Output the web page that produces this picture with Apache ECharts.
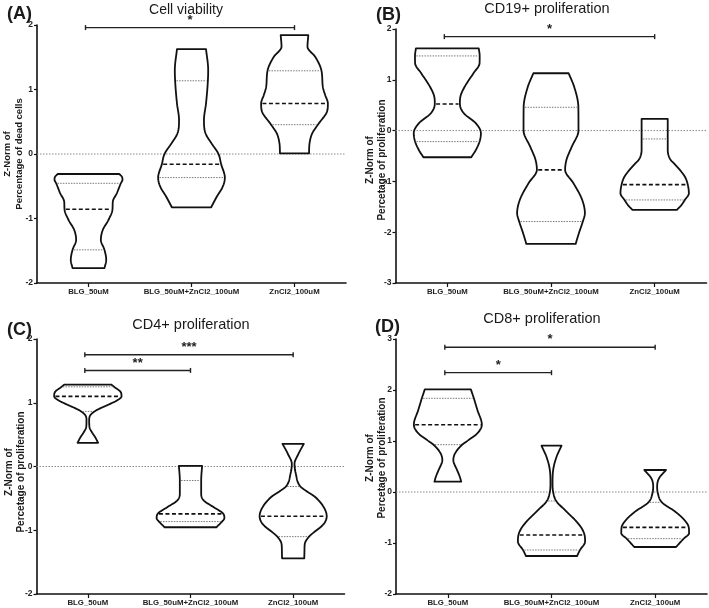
<!DOCTYPE html>
<html><head><meta charset="utf-8">
<script src="https://cdn.jsdelivr.net/npm/echarts@6/dist/echarts.min.js"></script>
<style>html,body{margin:0;padding:0;background:#fff}#c{width:709px;height:608px}</style>
</head><body><div id="c"></div>
<script>
const categories = ['BLG_50uM', 'BLG_50uM+ZnCl2_100uM', 'ZnCl2_100uM'];
const yTicks = { A: [-2, 2], B: [-3, 2], C: [-2, 2], D: [-2, 3] };

// Violin outlines: y values (top to bottom) and half widths (fraction of category band)
const viabilityY = [
  [-0.31, -0.35, -0.40, -0.454, -0.609, -0.738, -0.857, -1.022, -1.176, -1.331, -1.486, -1.641, -1.77],
  [1.625, 1.30, 1.135, 0.784, 0.526, 0.320, 0.165, 0.0, -0.16, -0.366, -0.505, -0.66, -0.826],
  [1.842, 1.661, 1.507, 1.29, 1.042, 0.913, 0.784, 0.681, 0.454, 0.320, 0.165, 0.01]
];
const viabilityW = [
  [0.298, 0.324, 0.330, 0.314, 0.275, 0.236, 0.233, 0.194, 0.139, 0.120, 0.155, 0.172, 0.155],
  [0.141, 0.162, 0.159, 0.141, 0.121, 0.136, 0.194, 0.262, 0.288, 0.324, 0.304, 0.246, 0.191],
  [0.134, 0.126, 0.201, 0.262, 0.275, 0.298, 0.324, 0.320, 0.227, 0.172, 0.146, 0.141]
];
const viabilityQ = [[-1.486, -0.857, -0.454], [-0.366, -0.16, 1.135], [0.454, 0.784, 1.29]];

const cd19Y = [
  [1.62, 1.47, 1.325, 1.129, 0.866, 0.669, 0.525, 0.341, 0.144, -0.052, -0.217, -0.381, -0.525],
  [1.129, 0.866, 0.459, 0.0, -0.315, -0.577, -0.774, -1.037, -1.365, -1.627, -1.79, -2.02, -2.23],
  [0.23, 0.013, -0.164, -0.381, -0.577, -0.64, -0.906, -1.063, -1.234, -1.365, -1.463, -1.56]
];
const cd19W = [
  [0.303, 0.312, 0.311, 0.252, 0.168, 0.126, 0.121, 0.159, 0.275, 0.324, 0.311, 0.275, 0.231],
  [0.170, 0.223, 0.264, 0.265, 0.201, 0.149, 0.136, 0.217, 0.301, 0.327, 0.307, 0.269, 0.238],
  [0.126, 0.126, 0.126, 0.126, 0.154, 0.184, 0.291, 0.319, 0.330, 0.291, 0.259, 0.214]
];
const cd19Q = [[-0.217, 0.525, 1.47], [-1.79, -0.774, 0.459], [-1.365, -1.063, -0.164]];

const cd4Y = [
  [1.283, 1.246, 1.168, 1.10, 1.037, 0.958, 0.88, 0.801, 0.723, 0.618, 0.539, 0.461, 0.372],
  [0.01, -0.22, -0.429, -0.534, -0.639, -0.743, -0.812, -0.864, -0.953],
  [0.356, 0.199, 0.042, -0.115, -0.314, -0.482, -0.639, -0.780, -0.901, -1.1, -1.215, -1.319, -1.44]
];
const cd4W = [
  [0.231, 0.259, 0.320, 0.328, 0.285, 0.184, 0.081, 0.023, 0.013, 0.016, 0.039, 0.071, 0.100],
  [0.113, 0.104, 0.104, 0.129, 0.227, 0.320, 0.330, 0.307, 0.252],
  [0.104, 0.052, 0.013, 0.026, 0.071, 0.217, 0.298, 0.327, 0.298, 0.155, 0.113, 0.110, 0.108]
];
const cd4Q = [[0.864, 1.10, 1.25], [-0.864, -0.743, -0.22], [-1.1, -0.78, -0.314]];

const cd8Y = [
  [2.013, 1.837, 1.608, 1.32, 1.150, 1.020, 0.928, 0.758, 0.627, 0.431, 0.301, 0.203],
  [0.908, 0.693, 0.431, 0.170, 0.0, -0.176, -0.353, -0.549, -0.712, -0.843, -0.974, -1.137, -1.255],
  [0.431, 0.268, 0.105, -0.026, -0.203, -0.386, -0.549, -0.693, -0.81, -0.915, -1.078]
];
const cd8W = [
  [0.222, 0.251, 0.285, 0.328, 0.285, 0.201, 0.138, 0.070, 0.053, 0.089, 0.115, 0.129],
  [0.097, 0.049, 0.016, 0.010, 0.016, 0.045, 0.129, 0.227, 0.291, 0.319, 0.324, 0.275, 0.246],
  [0.105, 0.037, 0.019, 0.026, 0.065, 0.194, 0.282, 0.324, 0.327, 0.275, 0.202]
];
const cd8Q = [[0.928, 1.32, 1.837], [-1.137, -0.843, -0.176], [-0.915, -0.693, -0.203]];

// Significance brackets: [fromIndex, toIndex, yValue] and their labels
const viabilitySig = [[0, 2, 1.96]];
const viabilitySigLabel = ['*'];
const cd19Sig = [[0, 2, 1.85]];
const cd19SigLabel = ['*'];
const cd4Sig = [[0, 1, 1.507], [0, 2, 1.754]];
const cd4SigLabel = ['**', '***'];
const cd8Sig = [[0, 1, 2.34], [0, 2, 2.837]];
const cd8SigLabel = ['*', '*'];

const FONT = '"Liberation Sans", Arial, Helvetica, sans-serif';
const INK = '#111';

function monotone(xsIn, ysIn) {
  const idx = xsIn.map((_, i) => i).sort((a, b) => xsIn[a] - xsIn[b]);
  const xs = idx.map(i => xsIn[i]), ys = idx.map(i => ysIn[i]);
  const n = xs.length, d = [], m = new Array(n);
  for (let i = 0; i < n - 1; i++) d.push((ys[i + 1] - ys[i]) / (xs[i + 1] - xs[i]));
  m[0] = d[0]; m[n - 1] = d[n - 2];
  for (let i = 1; i < n - 1; i++) m[i] = d[i - 1] * d[i] <= 0 ? 0 : (d[i - 1] + d[i]) / 2;
  for (let i = 0; i < n - 1; i++) {
    if (d[i] === 0) { m[i] = 0; m[i + 1] = 0; continue; }
    const a = m[i] / d[i], b = m[i + 1] / d[i], s = a * a + b * b;
    if (s > 9) { const t = 3 / Math.sqrt(s); m[i] = t * a * d[i]; m[i + 1] = t * b * d[i]; }
  }
  return function (x) {
    if (x <= xs[0]) return ys[0];
    if (x >= xs[n - 1]) return ys[n - 1];
    let k = 0; while (x > xs[k + 1]) k++;
    const h = xs[k + 1] - xs[k], t = (x - xs[k]) / h;
    const h00 = 2 * t * t * t - 3 * t * t + 1, h10 = t * t * t - 2 * t * t + t;
    const h01 = -2 * t * t * t + 3 * t * t, h11 = t * t * t - t * t;
    return h00 * ys[k] + h10 * h * m[k] + h01 * ys[k + 1] + h11 * h * m[k + 1];
  };
}

function zeroSeries(gi) {
  return {
    type: 'custom', xAxisIndex: gi, yAxisIndex: gi, silent: true, z: 1,
    data: [[0, 0]],
    renderItem: function (params, api) {
      const cs = params.coordSys;
      const y = api.coord([0, 0])[1];
      return { type: 'line', shape: { x1: cs.x, y1: y, x2: cs.x + cs.width, y2: y },
        style: { stroke: '#8a8a8a', lineWidth: 1, lineDash: [1.5, 1.5] } };
    }
  };
}

function violinSeries(gi, ysAll, wsAll, qsAll) {
  return {
    type: 'custom', xAxisIndex: gi, yAxisIndex: gi, silent: true, z: 3,
    data: categories.map((c, i) => [i, 0]),
    renderItem: function (params, api) {
      const i = api.value(0);
      const band = api.size([1, 0])[0];
      const ys = ysAll[i], ws = wsAll[i];
      const f = monotone(ys, ws);
      const top = Math.max.apply(null, ys), bot = Math.min.apply(null, ys);
      const N = 90, right = [], left = [];
      for (let k = 0; k <= N; k++) {
        const y = top - (top - bot) * k / N;
        const p = api.coord([i, y]);
        const w = f(y) * band;
        right.push([p[0] + w, p[1]]);
        left.push([p[0] - w, p[1]]);
      }
      const pts = right.concat(left.reverse());
      const children = [{ type: 'polygon', shape: { points: pts },
        style: { fill: 'none', stroke: INK, lineWidth: 1.8, lineJoin: 'round' } }];
      qsAll[i].forEach(function (q, qi) {
        const p = api.coord([i, q]);
        const w = f(q) * band - 1.3;
        children.push({ type: 'line', shape: { x1: p[0] - w, y1: p[1], x2: p[0] + w, y2: p[1] },
          style: qi === 1 ? { stroke: '#111', lineWidth: 1.6, lineDash: [4, 2.5] }
                          : { stroke: '#777', lineWidth: 1, lineDash: [1.5, 1.2] } });
      });
      return { type: 'group', children: children };
    }
  };
}

function sigSeries(gi, bars, labels) {
  return {
    type: 'custom', xAxisIndex: gi, yAxisIndex: gi, silent: true, z: 4,
    data: bars.map((b, i) => [b[0], b[2], b[1], i]),
    renderItem: function (params, api) {
      const from = api.value(0), y = api.value(1), to = api.value(2), li = api.value(3);
      const p1 = api.coord([from, y]), p2 = api.coord([to, y]);
      const x1 = p1[0] - 3, x2 = p2[0], yy = p1[1];
      const st = { stroke: '#222', lineWidth: 1.4 };
      return { type: 'group', children: [
        { type: 'line', shape: { x1: x1, y1: yy, x2: x2, y2: yy }, style: st },
        { type: 'line', shape: { x1: x1, y1: yy - 2.5, x2: x1, y2: yy + 2.5 }, style: st },
        { type: 'line', shape: { x1: x2, y1: yy - 2.5, x2: x2, y2: yy + 2.5 }, style: st },
        { type: 'text', x: (x1 + x2) / 2, y: yy - 1, style: { text: labels[li], font: 'bold 13px ' + FONT,
          fill: '#222', align: 'center', verticalAlign: 'bottom' } }
      ] };
    }
  };
}

const grids = [
  { left: 37, top: 25, width: 309, height: 258 },
  { left: 395.5, top: 29, width: 311, height: 254 },
  { left: 36.5, top: 339, width: 308, height: 255 },
  { left: 396, top: 339, width: 311, height: 255 }
];
const ranges = [yTicks.A, yTicks.B, yTicks.C, yTicks.D];

const axStyle = { color: INK, width: 1.6 };
const xAxes = grids.map((g, i) => ({
  type: 'category', gridIndex: i, data: categories,
  axisLine: { show: true, onZero: false, lineStyle: axStyle },
  axisTick: { show: true, alignWithLabel: true, length: 4, lineStyle: { color: INK, width: 1.2 } },
  axisLabel: { interval: 0, fontSize: 7.8, fontWeight: 'bold', color: '#222', margin: 5, fontFamily: FONT },
  splitLine: { show: false }
}));
const yAxes = grids.map((g, i) => ({
  type: 'value', gridIndex: i, min: ranges[i][0], max: ranges[i][1], interval: 1,
  axisLine: { show: true, lineStyle: axStyle },
  axisTick: { show: true, length: 3, lineStyle: { color: INK, width: 1.2 } },
  axisLabel: { fontSize: 8.5, fontWeight: 'bold', color: '#222', margin: 4, fontFamily: FONT },
  splitLine: { show: false }
}));

function txt(x, y, text, font, align, rot) {
  return { type: 'text', x: x, y: y, rotation: rot || 0, silent: true,
    style: { text: text, font: font, fill: '#1a1a1a', align: align || 'center', verticalAlign: 'middle', lineHeight: 12 } };
}

const graphics = [
  txt(7, 14, '(A)', 'bold 18px ' + FONT, 'left'),
  txt(186, 10, 'Cell viability', '14px ' + FONT),
  txt(376, 15, '(B)', 'bold 18px ' + FONT, 'left'),
  txt(547, 9, 'CD19+ proliferation', '14.5px ' + FONT),
  txt(7, 330, '(C)', 'bold 18px ' + FONT, 'left'),
  txt(191, 325, 'CD4+ proliferation', '14.5px ' + FONT),
  txt(375, 327, '(D)', 'bold 18px ' + FONT, 'left'),
  txt(542, 319, 'CD8+ proliferation', '14.5px ' + FONT),
  txt(13, 154, 'Z-Norm of\nPercentage of dead cells', 'bold 9.5px ' + FONT, 'center', Math.PI / 2),
  txt(376, 160, 'Z-Norm of\nPercetage of proliferation', 'bold 10px ' + FONT, 'center', Math.PI / 2),
  txt(15, 472, 'Z-Norm of\nPercetage of proliferation', 'bold 10px ' + FONT, 'center', Math.PI / 2),
  txt(376, 458, 'Z-Norm of\nPercetage of proliferation', 'bold 10px ' + FONT, 'center', Math.PI / 2)
];

const chart = echarts.init(document.getElementById('c'), null, { renderer: 'canvas' });
chart.setOption({
  animation: false,
  backgroundColor: '#fff',
  grid: grids,
  xAxis: xAxes,
  yAxis: yAxes,
  graphic: graphics,
  series: [
    zeroSeries(0), zeroSeries(1), zeroSeries(2), zeroSeries(3),
    violinSeries(0, viabilityY, viabilityW, viabilityQ),
    violinSeries(1, cd19Y, cd19W, cd19Q),
    violinSeries(2, cd4Y, cd4W, cd4Q),
    violinSeries(3, cd8Y, cd8W, cd8Q),
    sigSeries(0, viabilitySig, viabilitySigLabel),
    sigSeries(1, cd19Sig, cd19SigLabel),
    sigSeries(2, cd4Sig, cd4SigLabel),
    sigSeries(3, cd8Sig, cd8SigLabel)
  ]
});
</script></body></html>
